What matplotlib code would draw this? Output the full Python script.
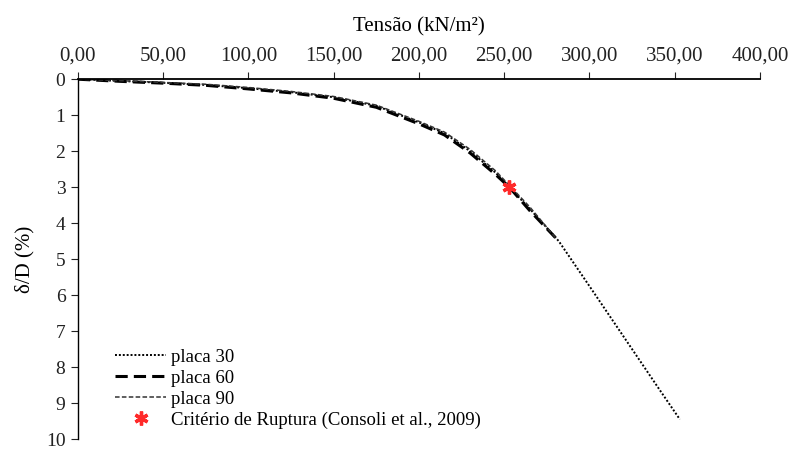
import matplotlib.pyplot as plt
from matplotlib.ticker import FuncFormatter

plt.rcParams['font.family'] = ['Liberation Serif', 'DejaVu Serif']

# placa 30
x30 = [0, 25, 50, 75, 100, 125, 150, 175, 200, 215, 230, 245, 253, 265, 282, 300, 320, 340, 353]
y30 = [0, 0.05, 0.1, 0.16, 0.25, 0.36, 0.5, 0.74, 1.2, 1.5, 2.0, 2.6, 3.0, 3.6, 4.5, 5.75, 7.15, 8.55, 9.45]
# placa 60
x60 = [0, 25, 50, 75, 100, 125, 150, 175, 200, 215, 230, 245, 253, 265, 282]
y60 = [0, 0.06, 0.11, 0.17, 0.27, 0.38, 0.53, 0.78, 1.24, 1.55, 2.05, 2.65, 3.0, 3.65, 4.5]
# placa 90
x90 = [0, 25, 50, 75, 100, 125, 150, 175, 200, 215, 230, 245, 253, 265, 280]
y90 = [0, 0.04, 0.09, 0.14, 0.23, 0.34, 0.48, 0.72, 1.17, 1.47, 1.95, 2.55, 2.95, 3.55, 4.4]

rupt_x = [253]
rupt_y = [3.0]

xticks = [0, 50, 100, 150, 200, 250, 300, 350, 400]
yticks = [0, 1, 2, 3, 4, 5, 6, 7, 8, 9, 10]

fig = plt.figure(figsize=(7.95, 4.5), dpi=100)
ax = fig.add_axes([0.098, 0.024, 0.858, 0.80])

ax.plot(x30, y30, color="black", linestyle=(0, (1, 1)), linewidth=1.4, label="placa 30")
ax.plot(x60, y60, color="black", linestyle=(0, (4, 2)), linewidth=2.2, label="placa 60")
ax.plot(x90, y90, color="#333333", linestyle=(0, (3, 1.5)), linewidth=1.1, label="placa 90")
ax.plot(rupt_x, rupt_y, linestyle="none", marker=(6, 2, 0), markersize=10,
        markeredgewidth=2.4, color="#ff2a2a", label="Critério de Ruptura (Consoli et al., 2009)")

ax.set_xlim(0, 400)
ax.set_ylim(10, 0)
ax.set_xticks(xticks)
ax.set_yticks(yticks)
ax.xaxis.set_major_formatter(FuncFormatter(lambda v, p: f"{v:.2f}".replace(".", ",")))
ax.xaxis.tick_top()
ax.xaxis.set_label_position("top")
ax.spines["right"].set_visible(False)
ax.spines["bottom"].set_visible(False)
ax.spines["top"].set_linewidth(1.3)
ax.spines["left"].set_linewidth(1.0)
ax.tick_params(axis="both", direction="out", length=5, colors="#222222")
ax.tick_params(axis="x", pad=5, labelsize=15)
ax.tick_params(axis="y", pad=4, labelsize=14)

ax.set_xlabel("Tensão (kN/m²)", fontsize=15, labelpad=11)
ax.set_ylabel("δ/D (%)", fontsize=15, labelpad=8)

ax.legend(loc="lower left", bbox_to_anchor=(0.03, -0.018), frameon=False, fontsize=13.5,
          handlelength=2.7, handletextpad=0.25, labelspacing=0.2)

fig.savefig("out.png", dpi=100)
